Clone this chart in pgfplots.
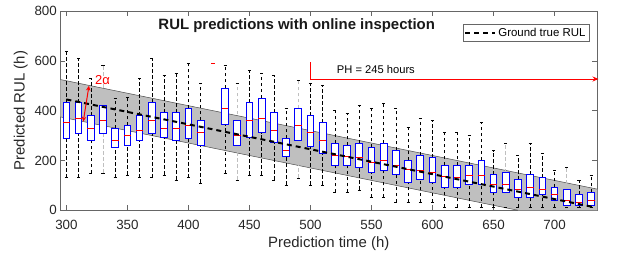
\documentclass[border=0pt]{standalone}
\usepackage{fontspec}
\setmainfont{Liberation Sans}
\usepackage{pgfplots}
\pgfplotsset{compat=1.18}
\usetikzlibrary{arrows.meta}
\tikzset{whisk/.style={line width=0.6bp, dash pattern=on 3.5bp off 2.5bp}}
% #1 t, #2 lower whisker, #3 lower quartile, #4 median, #5 upper quartile, #6 upper whisker, #7 whisker colour
\newcommand{\bxg}[7]{%
  \pgfmathsetmacro\boxL{#1-2.75}\pgfmathsetmacro\boxR{#1+2.75}%
  \pgfmathsetmacro\capL{#1-1.25}\pgfmathsetmacro\capR{#1+1.25}%
  \addplot[forget plot, #7, whisk] coordinates {(#1,#2) (#1,#3)};
  \addplot[forget plot, #7, whisk] coordinates {(#1,#5) (#1,#6)};
  \addplot[forget plot, black, line width=0.6bp] coordinates {(\capL,#2) (\capR,#2)};
  \addplot[forget plot, black, line width=0.6bp] coordinates {(\capL,#6) (\capR,#6)};
  \addplot[forget plot, draw=blue, fill=white, line width=1bp] coordinates {(\boxL,#3) (\boxR,#3) (\boxR,#5) (\boxL,#5)} -- cycle;
  \addplot[forget plot, red, line width=0.8bp] coordinates {(\boxL,#4) (\boxR,#4)};
}
\newcommand{\bx}[6]{\bxg{#1}{#2}{#3}{#4}{#5}{#6}{black}}
\newcommand{\bxf}[6]{\bxg{#1}{#2}{#3}{#4}{#5}{#6}{black!25}}
\begin{document}
\begin{tikzpicture}
\begin{axis}[
  scale only axis, width=537bp, height=199.3bp,
  xmin=295, xmax=735, ymin=0, ymax=800,
  xtick={300,350,...,700}, ytick={0,200,...,800},
  tick align=inside, major tick length=5bp,
  axis line style={black!60, line width=0.6bp},
  every tick/.style={black!60, line width=0.5bp},
  tick label style={font=\fontsize{13.4}{16}\selectfont, text=black!85},
  xticklabel style={yshift=-6bp},
  /pgf/number format/assume math mode=true,
  /pgf/number format/1000 sep={},
  xlabel={Prediction time (h)}, ylabel={Predicted RUL (h)},
  label style={font=\fontsize{15}{18}\selectfont, text=black!85},
  xlabel style={yshift=-1bp},
  clip=false,
  legend style={at={(1,1)}, anchor=north east, xshift=-8bp, yshift=-13bp,
    font=\fontsize{11.5}{13}\selectfont, draw=black!60, inner sep=1.5bp, legend cell align=left},
  legend image code/.code={\draw[#1] (0bp,0bp) -- (30bp,0bp);},
]
% tolerance band (ground truth +/- alpha)
\addplot[forget plot, fill=black!25, draw=none] coordinates {(295,525) (735,85) (735,0) (670,0) (295,375)} -- cycle;
\addplot[forget plot, black!70, line width=0.5bp] coordinates {(295,525) (735,85)};
\addplot[forget plot, black!70, line width=0.5bp] coordinates {(295,375) (670,0)};
% boxes
\bx{300}{131}{289}{351}{432}{640}
\bx{310}{131}{310}{369}{432}{612}
\bx{320}{149}{280}{330}{380}{531}
\bxf{330}{150}{309}{362}{419}{581}
\bx{340}{131}{253}{282}{330}{450}
\bx{350}{142}{261}{302}{341}{455}
\bx{360}{131}{281}{322}{380}{531}
\bx{370}{131}{310}{361}{432}{612}
\bx{380}{142}{292}{330}{392}{541}
\bx{390}{122}{281}{330}{392}{551}
\bx{400}{131}{289}{341}{409}{590}
\bx{410}{110}{261}{312}{361}{510}
\bx{430}{149}{343}{410}{490}{581}
\bxf{440}{122}{261}{302}{361}{510}
\bx{450}{142}{292}{361}{432}{561}
\bx{460}{142}{312}{369}{450}{551}
\bx{470}{122}{272}{322}{392}{541}
\bx{480}{102}{215}{240}{289}{409}
\bxf{490}{130}{282}{341}{409}{522}
\bx{500}{102}{256}{312}{380}{510}
\bx{510}{102}{230}{282}{351}{502}
\bx{520}{72}{181}{222}{270}{401}
\bx{530}{72}{181}{215}{261}{389}
\bx{540}{82}{171}{213}{270}{422}
\bx{550}{52}{151}{191}{253}{409}
\bx{560}{52}{161}{199}{270}{430}
\bx{570}{33}{142}{181}{241}{409}
\bx{580}{33}{111}{165}{201}{335}
\bx{590}{33}{122}{162}{221}{369}
\bx{600}{33}{111}{151}{211}{361}
\bx{610}{12}{92}{135}{181}{312}
\bx{620}{12}{92}{131}{181}{312}
\bx{630}{12}{102}{142}{181}{300}
\bx{640}{12}{102}{142}{201}{352}
\bx{650}{12}{72}{102}{142}{240}
\bxf{660}{12}{72}{102}{151}{270}
\bx{670}{12}{52}{82}{122}{221}
\bx{680}{12}{52}{92}{142}{270}
\bx{690}{12}{62}{82}{131}{230}
\bx{700}{12}{41}{62}{92}{162}
\bxf{710}{12}{21}{41}{82}{171}
\bx{720}{12}{21}{32}{62}{122}
\bx{730}{12}{21}{41}{72}{142}
\addplot[forget plot, red, only marks, mark=-, mark size=2bp] coordinates {(420,590)};
% ground truth
\addplot[black, line width=2bp, dash pattern=on 5bp off 4bp] coordinates {(300,445) (730,15)};
\addlegendentry{Ground true RUL}
% annotations
\node[font=\bfseries\fontsize{15}{18}\selectfont, text=black!90] at (axis cs:488.7,740) {RUL predictions with online inspection};
\draw[red, line width=1bp] (axis cs:500,594) -- (axis cs:500,527);
\draw[red, line width=1bp, -{Stealth[length=6bp, width=5bp]}] (axis cs:500,527) -- (axis cs:736,527);
\node[font=\fontsize{11.2}{13}\selectfont, text=black] at (axis cs:553.6,567) {PH = 245 hours};
\node[red, font=\fontsize{13}{15}\selectfont] at (axis cs:329.5,523) {2α};
\draw[red, line width=1bp, {Stealth[length=5bp, width=4.5bp]}-{Stealth[length=5bp, width=4.5bp]}] (axis cs:318.5,500) -- (axis cs:313.8,356);
\end{axis}
\pgfresetboundingbox
\path[use as bounding box] (-60.3bp,-42.7bp) rectangle (559.7bp,210.3bp);
\end{tikzpicture}
\end{document}
